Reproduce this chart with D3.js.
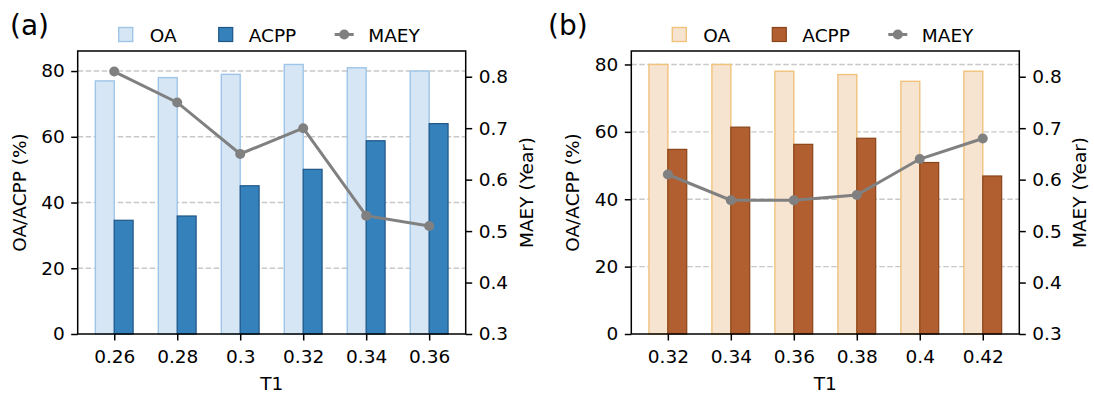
<!DOCTYPE html>
<html>
<head>
<meta charset="utf-8">
<script src="https://cdn.jsdelivr.net/npm/d3@7"></script>
<style>
  html, body { margin: 0; padding: 0; background: #fff; }
  svg { display: block; font-family: "DejaVu Sans", sans-serif; }
</style>
</head>
<body>
<svg id="fig" width="1094" height="396"></svg>
<script>
// Panel (a)
const t1A = ["0.26", "0.28", "0.3", "0.32", "0.34", "0.36"];
const oaA = [77, 78, 79, 82, 81, 80];
const acppA = [34.6, 35.9, 45.1, 50.1, 58.8, 64];
const maeyA = [0.81, 0.75, 0.65, 0.70, 0.53, 0.51];

// Panel (b)
const t1B = ["0.32", "0.34", "0.36", "0.38", "0.4", "0.42"];
const oaB = [80, 80, 78, 77, 75, 78];
const acppB = [54.8, 61.4, 56.3, 58.1, 50.9, 46.9];
const maeyB = [0.61, 0.56, 0.56, 0.57, 0.64, 0.68];

// Axis ticks
const leftTicks = [0, 20, 40, 60, 80];
const rightTicks = [0.3, 0.4, 0.5, 0.6, 0.7, 0.8];
const rightDomain = [0.3, 0.85];

const FS = 18.5;
const svg = d3.select("#fig");

function drawPanel(p) {
  const g = svg.append("g");
  const n = p.cats.length;
  const x = d3.scaleLinear().domain([-0.58, n - 1 + 0.58]).range([p.left, p.right]);
  const yL = d3.scaleLinear().domain([0, d3.max(p.oa) * 1.05]).range([p.bottom, p.top]);
  const yR = d3.scaleLinear().domain(rightDomain).range([p.bottom, p.top]);
  const bw = 0.3;

  // dashed grid on left ticks
  g.append("g").selectAll("line")
    .data(leftTicks.filter(d => d > 0))
    .join("line")
    .attr("x1", p.left).attr("x2", p.right)
    .attr("y1", d => yL(d)).attr("y2", d => yL(d))
    .attr("stroke", "#c8c8c8").attr("stroke-width", 1.4)
    .attr("stroke-dasharray", "5.5,2.5");

  // OA bars
  g.append("g").selectAll("rect")
    .data(p.oa)
    .join("rect")
    .attr("x", (d, i) => x(i - bw))
    .attr("width", (d, i) => x(i) - x(i - bw))
    .attr("y", d => yL(d))
    .attr("height", d => yL(0) - yL(d))
    .attr("fill", p.oaFill).attr("stroke", p.oaEdge).attr("stroke-width", 1.4);

  // ACPP bars
  g.append("g").selectAll("rect")
    .data(p.acpp)
    .join("rect")
    .attr("x", (d, i) => x(i))
    .attr("width", (d, i) => x(i + bw) - x(i))
    .attr("y", d => yL(d))
    .attr("height", d => yL(0) - yL(d))
    .attr("fill", p.acppFill).attr("stroke", p.acppEdge).attr("stroke-width", 1.2);

  // MAEY line + markers
  const line = d3.line().x((d, i) => x(i)).y(d => yR(d));
  g.append("path").datum(p.maey)
    .attr("d", line).attr("fill", "none")
    .attr("stroke", "#808080").attr("stroke-width", 3);
  g.append("g").selectAll("circle")
    .data(p.maey)
    .join("circle")
    .attr("cx", (d, i) => x(i)).attr("cy", d => yR(d))
    .attr("r", 5).attr("fill", "#808080");

  // frame
  g.append("rect")
    .attr("x", p.left).attr("y", p.top)
    .attr("width", p.right - p.left).attr("height", p.bottom - p.top)
    .attr("fill", "none").attr("stroke", "#000").attr("stroke-width", 1.5);

  const styleAxis = sel => {
    sel.select(".domain").remove();
    sel.selectAll(".tick line").attr("stroke", "#000").attr("stroke-width", 1.5);
    sel.selectAll(".tick text").attr("fill", "#000")
      .style("font-size", FS + "px").style("font-family", "DejaVu Sans");
  };

  g.append("g").attr("transform", `translate(${p.left},0)`)
    .call(d3.axisLeft(yL).tickValues(leftTicks).tickFormat(d3.format("d"))
      .tickSize(6.5).tickPadding(6.5))
    .call(styleAxis);

  g.append("g").attr("transform", `translate(${p.right},0)`)
    .call(d3.axisRight(yR).tickValues(rightTicks).tickFormat(d3.format(".1f"))
      .tickSize(6.5).tickPadding(6.5))
    .call(styleAxis);

  g.append("g").attr("transform", `translate(0,${p.bottom})`)
    .call(d3.axisBottom(x).tickValues(d3.range(n)).tickFormat(i => p.cats[i])
      .tickSize(6.5).tickPadding(9))
    .call(styleAxis);

  const cx = (p.left + p.right) / 2;
  const cy = (p.top + p.bottom) / 2;

  // axis titles
  g.append("text").attr("x", cx).attr("y", 390)
    .attr("text-anchor", "middle").style("font-size", FS + "px").text("T1");
  g.append("text")
    .attr("transform", `translate(${p.left - 52},${cy}) rotate(-90)`)
    .attr("text-anchor", "middle").style("font-size", FS + "px").text("OA/ACPP (%)");
  g.append("text")
    .attr("transform", `translate(${p.right + 67},${cy}) rotate(-90)`)
    .attr("text-anchor", "middle").style("font-size", FS + "px").text("MAEY (Year)");

  // panel tag
  g.append("text").attr("x", p.tagX).attr("y", 34.5)
    .style("font-size", "28px").text(p.tag);

  // legend
  const lg = g.append("g").attr("transform", `translate(${cx},0)`);
  lg.append("rect").attr("x", -153).attr("y", 27.5).attr("width", 14).attr("height", 14)
    .attr("fill", p.oaFill).attr("stroke", p.oaEdge).attr("stroke-width", 1.4);
  lg.append("text").attr("x", -122).attr("y", 41.5).style("font-size", FS + "px").text("OA");
  lg.append("rect").attr("x", -53).attr("y", 27.5).attr("width", 14).attr("height", 14)
    .attr("fill", p.acppFill).attr("stroke", p.acppEdge).attr("stroke-width", 1.2);
  lg.append("text").attr("x", -23).attr("y", 41.5).style("font-size", FS + "px").text("ACPP");
  lg.append("line").attr("x1", 63).attr("x2", 82).attr("y1", 34.5).attr("y2", 34.5)
    .attr("stroke", "#808080").attr("stroke-width", 3);
  lg.append("circle").attr("cx", 72.5).attr("cy", 34.5).attr("r", 5).attr("fill", "#808080");
  lg.append("text").attr("x", 96.5).attr("y", 41.5).style("font-size", FS + "px").text("MAEY");
}

drawPanel({
  cats: t1A, oa: oaA, acpp: acppA, maey: maeyA,
  left: 77.7, right: 465.7, top: 51, bottom: 334,
  oaFill: "#d7e6f4", oaEdge: "#9ec5e8", acppFill: "#3581bb", acppEdge: "#1f5686",
  tag: "(a)", tagX: 10
});

drawPanel({
  cats: t1B, oa: oaB, acpp: acppB, maey: maeyB,
  left: 631.3, right: 1019.3, top: 51, bottom: 334,
  oaFill: "#f6e4d1", oaEdge: "#f0c27c", acppFill: "#b15f30", acppEdge: "#8a4419",
  tag: "(b)", tagX: 548
});
</script>
</body>
</html>
